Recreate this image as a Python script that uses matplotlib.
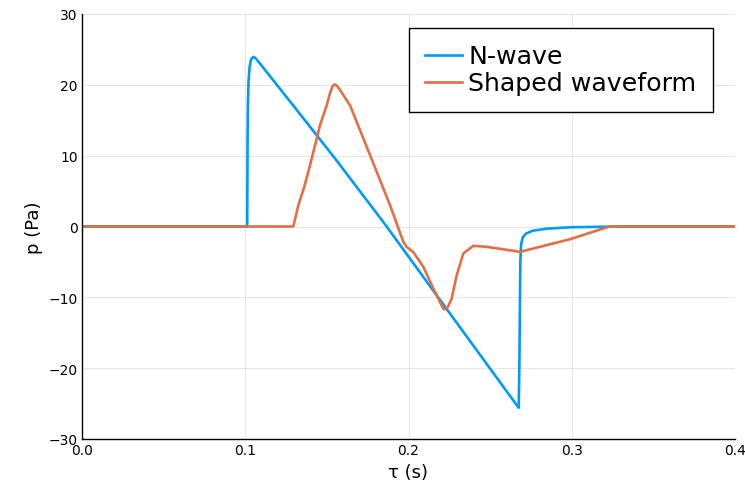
import matplotlib
matplotlib.use("Agg")
import matplotlib.pyplot as plt

# N-wave
t_n = [0.0, 0.1012, 0.1013, 0.1014, 0.1016, 0.1020, 0.1027, 0.1036, 0.1049, 0.1062,
       0.1080, 0.1300, 0.1550, 0.1850, 0.2142, 0.2675, 0.2679, 0.2682, 0.2685, 0.2690,
       0.2700, 0.2720, 0.2760, 0.2850, 0.3000, 0.3300, 0.4000]
p_n = [0.0, 0.0, 6.0, 12.0, 17.0, 20.5, 22.6, 23.6, 23.95, 23.8,
       23.3, 16.9, 9.6, 0.5, -8.75, -25.6, -20.0, -12.0, -5.0, -2.5,
       -1.5, -1.0, -0.6, -0.3, -0.1, 0.0, 0.0]

# Shaped waveform
t_s = [0.0, 0.1294, 0.1310, 0.1325, 0.1360, 0.1397, 0.1417, 0.1458, 0.1499, 0.1520,
       0.1535, 0.1547, 0.1560, 0.1580, 0.1642, 0.1764, 0.1887, 0.1968, 0.1988, 0.2029,
       0.2091, 0.2152, 0.2213, 0.2224, 0.2240, 0.2264, 0.2295, 0.2336, 0.2397, 0.2479,
       0.2683, 0.2990, 0.3230, 0.4000]
p_s = [0.0, 0.0, 1.5, 3.0, 5.5, 8.66, 10.5, 14.3, 17.1, 18.9,
       19.8, 20.05, 19.9, 19.3, 17.1, 10.1, 3.0, -2.16, -2.87, -3.6,
       -5.7, -8.75, -11.6, -11.7, -11.4, -10.2, -6.9, -3.8, -2.73, -2.87,
       -3.58, -1.79, 0.0, 0.0]

x_ticks = [0.0, 0.1, 0.2, 0.3, 0.4]
y_ticks = [-30, -20, -10, 0, 10, 20, 30]

fig = plt.figure(figsize=(7.45, 4.89), dpi=100)
ax = fig.add_axes([82/745, 1 - 440/489, (735-82)/745, (440-15)/489])

ax.plot(t_n, p_n, color="#009AFA", lw=1.9, label="N-wave")
ax.plot(t_s, p_s, color="#E26F46", lw=1.9, label="Shaped waveform")

ax.set_xlim(0, 0.4)
ax.set_ylim(-30, 30)
ax.set_xticks(x_ticks)
ax.set_xticklabels(["0.0", "0.1", "0.2", "0.3", "0.4"])
ax.set_yticks(y_ticks)
ax.set_yticklabels(["\u221230", "\u221220", "\u221210", "0", "10", "20", "30"])
ax.tick_params(labelsize=10, length=0, pad=3)
ax.grid(True, color="black", alpha=0.1, lw=0.7)
ax.set_axisbelow(True)
for s in ["top", "right"]:
    ax.spines[s].set_visible(False)
for s in ["left", "bottom"]:
    ax.spines[s].set_color("black")
    ax.spines[s].set_linewidth(1.0)

ax.set_xlabel("\u03c4 (s)", fontsize=13)
ax.set_ylabel("p (Pa)", fontsize=13)

leg = ax.legend(loc="upper right", bbox_to_anchor=((713-82)/653, (440-29)/425),
                borderaxespad=0, fontsize=18.2, frameon=True, fancybox=False,
                framealpha=1, edgecolor="black", handlelength=1.45,
                handletextpad=0.27, borderpad=0.65, labelspacing=0.12)
leg.get_frame().set_linewidth(1.0)

fig.savefig("out.png", dpi=100)
